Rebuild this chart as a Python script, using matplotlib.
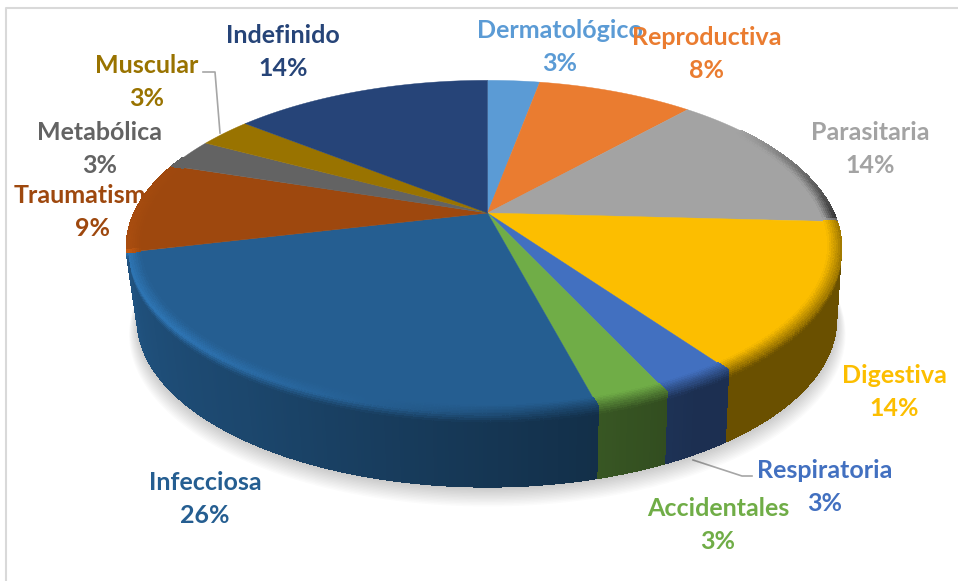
import numpy as np
import matplotlib
matplotlib.use("Agg")
import matplotlib.pyplot as plt
from matplotlib.collections import PolyCollection
from matplotlib.colors import to_rgb

# slices, clockwise from 12 o'clock
categories = ["Dermatológico", "Reproductiva", "Parasitaria", "Digestiva", "Respiratoria", "Accidentales",
              "Infecciosa", "Traumatismos", "Metabólica", "Muscular", "Indefinido"]
shares = [2.9, 8.7, 14.2, 14.3, 2.9, 2.8, 25.3, 8.8, 2.9, 2.9, 14.1]
percent_labels = ["3%", "8%", "14%", "14%", "3%", "3%", "26%", "9%", "3%", "3%", "14%"]
colors = ["#5b9bd5", "#ea7c30", "#a3a3a3", "#fcbe00", "#4270c0", "#70ad47",
          "#255e91", "#9e480e", "#636363", "#997300", "#264478"]
label_xy = [(560, 47), (707, 54), (870, 149), (894, 392), (825, 487), (718, 525),
            (205, 499), (93, 212), (100, 149), (147, 82), (283, 52)]

CX, CY = 487.5, 213
A_RIGHT, A_LEFT, B, K = 346, 353, 160, 0.206
DEPTH = 72


def project(angle, height=0.0, r=1.0):
    t = np.radians(angle)
    u, v = r * np.sin(t), r * np.cos(t)
    w = 1 + K * v
    a = np.where(u < 0, A_LEFT, A_RIGHT)
    inset = np.where(u < 0, 0.03, 0.014)
    x = CX + a * u / w * (1 - inset * height / DEPTH)
    y = CY - B * v / w + height
    return x, y


def lerp(c1, c2, f):
    return tuple(a + (b - a) * f for a, b in zip(c1, c2))


def scale(c, f):
    return tuple(min(1, a * f) for a in c)


def wall_shade(angle):
    return np.interp(angle, [85, 150, 175, 215, 262], [0.42, 0.42, 0.55, 0.75, 0.9])


def rim_color(base, angle):
    # front rim is dark on the right, picks up a highlight towards the left
    if angle < 92:
        return scale(base, np.interp(angle, [55, 90], [1.0, 0.35]))
    if angle > 258:
        return scale(base, np.interp(angle, [258, 290], [1.08, 1.0]))
    wall = scale(base, wall_shade(angle))
    mid = lerp(base, wall, 0.55)
    return lerp(mid, scale(base, 1.25), np.clip((angle - 170) / 60, 0, 1))


fig, ax = plt.subplots(figsize=(9.58, 5.81), dpi=100)
fig.subplots_adjust(0, 0, 1, 1)
ax.set_xlim(0, 958)
ax.set_ylim(581, 0)
ax.axis("off")

# light frame of the chart area
ax.plot([6.5, 6.5, 958], [581, 7.5, 7.5], color="#d9d9d9", lw=1.5, zorder=1)

edges = np.concatenate([[0], np.cumsum(shares)]) / np.sum(shares) * 360
wall_end = edges[categories.index("Traumatismos")]

# labels sit under the pie, Traumatismos gets clipped by it
for name, pct, col, (lx, ly) in zip(categories, percent_labels, colors, label_xy):
    ax.text(lx, ly, f"{name}\n{pct}", color=col, family="Lato", weight="bold", fontsize=18,
            ha="center", va="center", linespacing=1.5, zorder=2)

# soft shadow under the pie
all_angles = np.linspace(0, 360, 361)
for i in range(14):
    sx, sy = project(all_angles, DEPTH + 1 + i * 0.9, 1.0 + 0.0022 * i)
    ax.fill(sx, sy, color="black", alpha=0.016, lw=0, zorder=2.5)

# top faces
for i, col in enumerate(colors):
    ang = np.linspace(edges[i], edges[i + 1], 80)
    x, y = project(ang)
    ax.fill(np.r_[CX, x], np.r_[CY, y], color=col, lw=0.3, zorder=3)

# bevel and side wall, small quads so the shading runs along the edge
quads, quad_colors = [], []
bevel_r = np.linspace(0.965, 1.0, 7)
bevel_h = np.linspace(0, 9, 5)
for i, col in enumerate(colors):
    base = to_rgb(col)
    n = max(2, int((edges[i + 1] - edges[i]) / 0.5))
    ang = np.linspace(edges[i], edges[i + 1], n + 1)
    for a0, a1 in zip(ang[:-1], ang[1:]):
        am = (a0 + a1) / 2
        if am < 55 or am > 292:
            continue
        rim = rim_color(base, am)
        for j in range(len(bevel_r) - 1):
            x0, y0 = project(a0, 0, bevel_r[j])
            x1, y1 = project(a1, 0, bevel_r[j])
            x2, y2 = project(a1, 0, bevel_r[j + 1])
            x3, y3 = project(a0, 0, bevel_r[j + 1])
            quads.append([(x0, y0), (x1, y1), (x2, y2), (x3, y3)])
            quad_colors.append(lerp(base, rim, (j + 0.5) / (len(bevel_r) - 1)))
        if am < 90 or am > wall_end:
            continue
        wall = scale(base, wall_shade(am))
        for j in range(len(bevel_h) - 1):
            x0, y0 = project(a0, bevel_h[j])
            x1, y1 = project(a1, bevel_h[j])
            x2, y2 = project(a1, bevel_h[j + 1])
            x3, y3 = project(a0, bevel_h[j + 1])
            quads.append([(x0, y0), (x1, y1), (x2, y2), (x3, y3)])
            quad_colors.append(lerp(rim, wall, (j + 0.5) / (len(bevel_h) - 1)))
        x0, y0 = project(a0, bevel_h[-1])
        x1, y1 = project(a1, bevel_h[-1])
        x2, y2 = project(a1, DEPTH)
        x3, y3 = project(a0, DEPTH)
        quads.append([(x0, y0), (x1, y1), (x2, y2), (x3, y3)])
        quad_colors.append(wall)

ax.add_collection(PolyCollection(quads, facecolors=quad_colors, edgecolors=quad_colors, linewidths=0.9,
                                 antialiaseds=False, zorder=4))

# leader lines
ax.plot([203, 215, 220], [72, 72, 133], color="#a6a6a6", lw=1.2, zorder=2)
ax.plot([693, 742, 752], [460, 476, 476], color="#a6a6a6", lw=1.2, zorder=2)

fig.savefig("out.png", dpi=100)
